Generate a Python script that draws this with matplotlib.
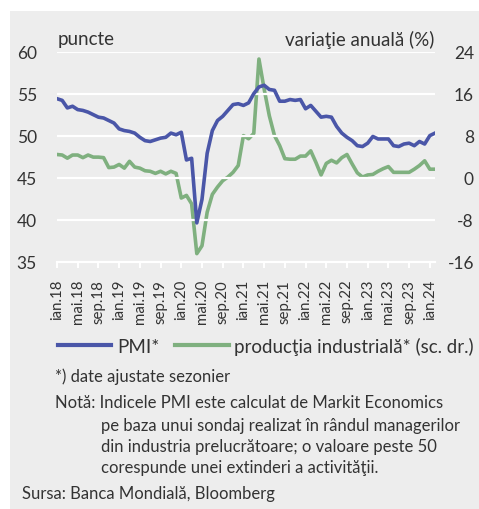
import matplotlib
matplotlib.use("Agg")
import matplotlib.pyplot as plt
from matplotlib.patches import Rectangle
from matplotlib.lines import Line2D

W, H = 479, 510

pmi = [54.4, 54.2, 53.3, 53.5, 53.1, 53.0, 52.8, 52.5, 52.2, 52.1, 51.8, 51.5,
       50.8, 50.6, 50.5, 50.3, 49.8, 49.4, 49.3, 49.5, 49.7, 49.8, 50.3, 50.1,
       50.4, 47.1, 47.3, 39.6, 42.4, 47.9, 50.6, 51.8, 52.3, 53.0, 53.7, 53.8,
       53.6, 53.9, 55.0, 55.8, 56.0, 55.5, 55.4, 54.1, 54.1, 54.3, 54.2, 54.3,
       53.2, 53.6, 52.9, 52.2, 52.3, 52.2, 51.1, 50.3, 49.8, 49.4, 48.8, 48.7,
       49.1, 49.9, 49.6, 49.6, 49.6, 48.8, 48.7, 49.0, 49.1, 48.8, 49.3, 49.0,
       50.0, 50.3]

productie = [4.4, 4.3, 3.7, 4.3, 4.3, 3.8, 4.3, 3.9, 3.9, 3.8, 1.9, 2.0,
             2.5, 1.8, 3.1, 2.0, 1.8, 1.3, 1.2, 0.8, 1.2, 0.7, 1.2, 0.8,
             -3.9, -3.4, -5.0, -14.5, -13.0, -6.6, -3.2, -1.8, -0.6, 0.1, 1.0, 2.3,
             8.0, 7.4, 8.4, 22.6, 16.9, 11.8, 8.0, 6.1, 3.6, 3.5, 3.5, 4.1,
             4.1, 5.1, 2.9, 0.5, 2.7, 3.3, 2.8, 3.8, 4.4, 2.6, 0.9, 0.1,
             0.5, 0.6, 1.2, 1.7, 2.1, 1.0, 1.0, 1.0, 1.0, 1.6, 2.3, 3.2,
             1.6, 1.6]

tick_labels = ["ian.18", "mai.18", "sep.18", "ian.19", "mai.19", "sep.19",
               "ian.20", "mai.20", "sep.20", "ian.21", "mai.21", "sep.21",
               "ian.22", "mai.22", "sep.22", "ian.23", "mai.23", "sep.23",
               "ian.24"]
left_ticks = [35, 40, 45, 50, 55, 60]
right_ticks = [-16, -8, 0, 8, 16, 24]

BLUE = "#4a56a8"
GREEN = "#7fb07f"
BG = "#ededed"
TXT = "#333333"
BODY = ["Lato", "DejaVu Sans"]

fig = plt.figure(figsize=(W / 100, H / 100), dpi=100)
fig.patch.set_facecolor("white")
fig.add_artist(Rectangle((10 / W, 0), 1 - 10 / W, 1 - 12 / H,
                         transform=fig.transFigure, facecolor=BG,
                         edgecolor="none", zorder=0))

def fx(x):
    return x / W

def fy(y):
    return 1 - y / H

ax = fig.add_axes([fx(57), fy(262.5), fx(435) - fx(57), fy(52.7) - fy(262.5)])
ax.set_facecolor("none")
ax2 = ax.twinx()
ax2.set_facecolor("none")

x = list(range(len(pmi)))
ax.set_xlim(0, len(pmi) - 1)
ax.set_ylim(35, 60)
ax2.set_ylim(-16, 24)

for v in left_ticks[1:]:
    ax.axhline(v, color="white", lw=1.6, zorder=1)

ax2.plot(x, productie, color=GREEN, lw=2.6, solid_joinstyle="round", zorder=3)
ax.plot(x, pmi, color=BLUE, lw=2.6, solid_joinstyle="round", zorder=4)
ax.set_zorder(ax2.get_zorder() + 1)

for a in (ax, ax2):
    for s in a.spines.values():
        s.set_visible(False)
ax.spines["bottom"].set_visible(True)
ax.spines["bottom"].set_color("white")
ax.spines["bottom"].set_linewidth(1.6)

ax.set_xticks(list(range(0, len(pmi), 4)))
ax.set_xticklabels(tick_labels, rotation=90, fontsize=10.8, color=TXT,
                   family=BODY)
ax.tick_params(axis="x", direction="out", length=4.5, width=1.4,
               color="white", pad=8)

ax.set_yticks(left_ticks)
ax.set_yticklabels([str(v) for v in left_ticks], fontsize=12.5, color=TXT,
                   family=BODY)
ax.tick_params(axis="y", length=0, pad=14.5)
ax2.set_yticks(right_ticks)
ax2.set_yticklabels([str(v) for v in right_ticks], fontsize=12.5, color=TXT,
                    family=BODY)
ax2.tick_params(axis="y", length=0, pad=28)
for lab in ax2.get_yticklabels():
    lab.set_horizontalalignment("right")

fig.text(fx(58), fy(40), "puncte", fontsize=13.5, color=TXT, family=BODY,
         va="center", ha="left")
fig.text(fx(434), fy(40), "variaţie anuală (%)", fontsize=13.5, color=TXT,
         family=BODY, va="center", ha="right")

handles = [Line2D([], [], color=BLUE, lw=3),
           Line2D([], [], color=GREEN, lw=3)]
fig.legend(handles, ["PMI*", "producţia industrială* (sc. dr.)"],
           loc="center left", bbox_to_anchor=(fx(58), fy(347)),
           bbox_transform=fig.transFigure, ncol=2,
           frameon=False, handlelength=2.85, handletextpad=0.3,
           columnspacing=0.85, borderaxespad=0, borderpad=0,
           labelcolor=TXT, prop={"family": BODY, "size": 13.5})

FS = 12
fig.text(fx(55), fy(377), "*) date ajustate sezonier", fontsize=FS,
         color=TXT, family=BODY, va="center")
fig.text(fx(55), fy(403.5), "Notă: Indicele PMI este calculat de Markit Economics",
         fontsize=FS, color=TXT, family=BODY, va="center")
fig.text(fx(101), fy(426.5), "pe baza unui sondaj realizat în rândul managerilor",
         fontsize=FS, color=TXT, family=BODY, va="center")
fig.text(fx(101), fy(447.5), "din industria prelucrătoare; o valoare peste 50",
         fontsize=FS, color=TXT, family=BODY, va="center")
fig.text(fx(101), fy(468.5), "corespunde unei extinderi a activităţii.",
         fontsize=FS, color=TXT, family=BODY, va="center")
fig.text(fx(22), fy(494), "Sursa: Banca Mondială, Bloomberg", fontsize=FS,
         color=TXT, family=BODY, va="center")

fig.savefig("out.png", dpi=100, facecolor=fig.get_facecolor())
